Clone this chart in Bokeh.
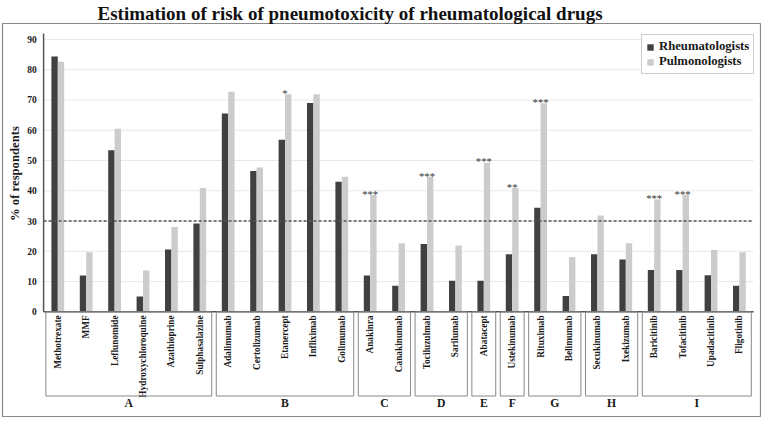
import math
from bokeh.plotting import figure
from bokeh.models import ColumnDataSource, Range1d, Legend, LegendItem
from bokeh.transform import dodge
from bokeh.core.properties import value
from bokeh.embed import file_html
from bokeh.resources import INLINE

# ---------------- data ----------------
drugs = ["Methotrexate", "MMF", "Leflunomide", "Hydroxychloroquine", "Azathioprine",
         "Sulphasalazine", "Adalimumab", "Certolizumab", "Etanercept", "Infliximab",
         "Golimumab", "Anakinra", "Canakinumab", "Tociluzulmab", "Sarilumab",
         "Abatacept", "Ustekinumab", "Rituximab", "Belimumab", "Secukinumab",
         "Ixekizumab", "Baricitinib", "Tofacitinib", "Upadacitinib", "Fligotinib"]
rheumatologists = [84.4, 12.0, 53.4, 5.1, 20.6, 29.2, 65.5, 46.5, 56.9, 69.0,
                   43.0, 12.0, 8.6, 22.4, 10.3, 10.3, 19.0, 34.4, 5.2, 19.0,
                   17.3, 13.8, 13.8, 12.1, 8.6]
pulmonologists = [82.6, 19.7, 60.5, 13.7, 28.0, 40.9, 72.7, 47.7, 71.9, 71.9,
                  44.6, 38.6, 22.7, 44.6, 21.9, 49.3, 40.9, 68.9, 18.1, 31.8,
                  22.7, 37.1, 38.7, 20.4, 19.7]
significance = ["", "", "", "", "", "", "", "", "*", "", "", "***", "", "***", "",
                "***", "**", "***", "", "", "", "***", "***", "", ""]
group_names = ["A", "B", "C", "D", "E", "F", "G", "H", "I"]
group_sizes = [6, 5, 2, 2, 1, 1, 2, 2, 4]
y_ticks = [0, 10, 20, 30, 40, 50, 60, 70, 80, 90]
threshold = 30
title_text = "Estimation of risk of pneumotoxicity of rheumatological drugs"
y_label = "% of respondents"

# ---------------- styling ----------------
FONT = "Liberation Serif"
DARK = "#404040"
LIGHT = "#cccccc"
AXIS = "#555555"
TXT = "#1a1a1a"
W, H = 761, 418

n = len(drugs)
idx = list(range(n))
x_lo, x_hi = -0.5, n - 0.5

p = figure(width=W, height=H, output_backend="svg", toolbar_location=None,
           x_range=Range1d(-1.947, 24.743), y_range=Range1d(-34.57, 95.27),
           x_axis_location=None, y_axis_location=None,
           min_border_left=2, min_border_right=1, min_border_top=22, min_border_bottom=2,
           title=title_text)
p.outline_line_color = "#888888"
p.outline_line_width = 1.2
p.background_fill_color = "white"
p.border_fill_color = "white"
p.grid.visible = False
for g in p.renderers:
    pass

p.title.text_font = FONT
p.title.text_font_style = "bold"
p.title.text_font_size = "19px"
p.title.text_color = "#111111"
p.title.align = "left"
p.title.offset = 95
p.title.standoff = 0
p.title.vertical_align = "bottom"

# grid lines (drawn from the y axis to the right end)
grid_ticks = [t for t in y_ticks if t != 0]
p.segment(x0=[x_lo] * len(grid_ticks), x1=[x_hi] * len(grid_ticks),
          y0=grid_ticks, y1=grid_ticks, line_color="#e8e8e8", line_width=1)

src = ColumnDataSource(dict(idx=idx, drug=drugs, rheum=rheumatologists,
                            pulm=pulmonologists, sig=significance,
                            sig_y=[v + 0.4 for v in pulmonologists]))

r1 = p.vbar(x=dodge("idx", -0.1125, range=p.x_range), top="rheum", width=0.225,
            source=src, fill_color=DARK, line_color=None)
r2 = p.vbar(x=dodge("idx", 0.1125, range=p.x_range), top="pulm", width=0.225,
            source=src, fill_color=LIGHT, line_color=None)

# threshold dashed line
p.segment(x0=[x_lo], x1=[x_hi], y0=[threshold], y1=[threshold],
          line_color=AXIS, line_width=1.5, line_dash="3 2")
# axes lines
p.segment(x0=[x_lo], x1=[x_hi], y0=[0], y1=[0], line_color=AXIS, line_width=1.5)
p.segment(x0=[x_lo], x1=[x_lo], y0=[0], y1=[92], line_color=AXIS, line_width=1.5)

# y tick labels
tsrc = ColumnDataSource(dict(y=y_ticks, t=[str(t) for t in y_ticks]))
p.text(x=x_lo - 0.243, y="y", text="t", source=tsrc, text_align="right",
       text_baseline="middle", text_font=value(FONT), text_font_style="bold",
       text_font_size="9.5px", text_color=TXT)
# y axis label
p.text(x=[-1.50], y=[45.7], text=[y_label], angle=math.pi / 2, text_align="center",
       text_baseline="middle", text_font=value(FONT), text_font_style="bold",
       text_font_size="12.7px", text_color=TXT)

# significance stars
p.text(x="idx", y="sig_y", text="sig", source=src, text_align="center",
       text_baseline="alphabetic", text_font=value(FONT), text_font_size="10.7px",
       text_color="#333333")

# category labels
p.text(x="idx", y=-1.15, text="drug", source=src, angle=math.pi / 2,
       text_align="right", text_baseline="middle", text_font=value(FONT),
       text_font_style="bold", text_font_size="9.3px", text_color=TXT)

# group boxes
lefts, rights, centers = [], [], []
start = 0
for s in group_sizes:
    lefts.append(start - 0.5 + 0.08)
    rights.append(start + s - 1 + 0.5 - 0.08)
    centers.append(start + (s - 1) / 2)
    start += s
gsrc = ColumnDataSource(dict(left=lefts, right=rights, center=centers, name=group_names))
p.quad(left="left", right="right", top=0, bottom=-27.8, source=gsrc,
       fill_color=None, line_color="#888888", line_width=1)
p.text(x="center", y=-30.2, text="name", source=gsrc, text_align="center",
       text_baseline="middle", text_font=value(FONT), text_font_style="bold",
       text_font_size="11.7px", text_color=TXT)

# legend
legend = Legend(items=[LegendItem(label="Rheumatologists", renderers=[r1]),
                       LegendItem(label="Pulmonologists", renderers=[r2])],
                location=(639, 342), padding=4, spacing=0, label_standoff=5,
                glyph_width=8, glyph_height=8, label_height=14,
                label_text_font=FONT, label_text_font_style="bold",
                label_text_font_size="12.7px", label_text_color=TXT,
                border_line_color="#999999", border_line_width=1,
                background_fill_color="white", background_fill_alpha=1.0,
                margin=0)
p.add_layout(legend)

open("out.html", "w").write(file_html(p, INLINE))
